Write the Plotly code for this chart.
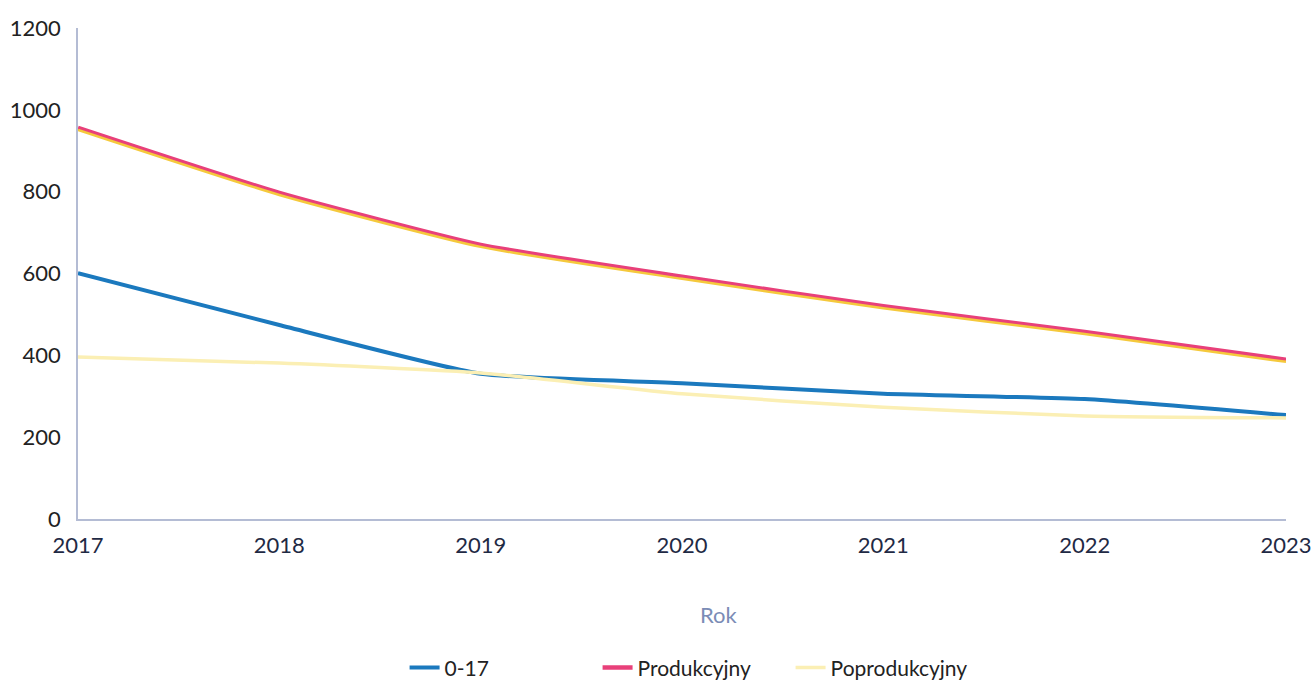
import plotly.graph_objects as go

years = [2017, 2018, 2019, 2020, 2021, 2022, 2023]
s_0_17 = [601, 474, 355, 332, 306, 293, 254]
s_produkcyjny = [956, 797, 670, 592, 520, 457, 389]
s_poprodukcyjny = [396, 381, 357, 306, 273, 252, 247]

y_ticks = [0, 200, 400, 600, 800, 1000, 1200]

font_family = "Lato, 'Open Sans', sans-serif"

fig = go.Figure()

fig.add_trace(go.Scatter(
    x=years, y=s_0_17, name="0-17", mode="lines",
    line=dict(color="#1b79be", width=4, shape="spline", smoothing=0.5),
))
# yellow edge beneath the Produkcyjny line (drawn on a slightly shifted hidden axis)
fig.add_trace(go.Scatter(
    x=years, y=s_produkcyjny, name="Produkcyjny", mode="lines", showlegend=False,
    yaxis="y2", hoverinfo="skip",
    line=dict(color="#f5c93c", width=2.5, shape="spline", smoothing=0.5),
))
fig.add_trace(go.Scatter(
    x=years, y=s_produkcyjny, name="Produkcyjny", mode="lines",
    line=dict(color="#e8407a", width=4.5, shape="spline", smoothing=0.5),
))
fig.add_trace(go.Scatter(
    x=years, y=s_poprodukcyjny, name="Poprodukcyjny", mode="lines",
    line=dict(color="#fbefb4", width=3.5, shape="spline", smoothing=0.5),
))

fig.update_layout(
    width=1312, height=680,
    paper_bgcolor="white", plot_bgcolor="white",
    margin=dict(l=78, r=26, t=28, b=161),
    font=dict(family=font_family, size=22, color="#222222"),
    xaxis=dict(
        range=[2017, 2023], tickvals=years, ticktext=[str(y) for y in years],
        showgrid=False, zeroline=False, showline=True, linecolor="#b4bcd4", linewidth=1.5,
        ticks="", ticklabelstandoff=6, automargin=False,
        tickfont=dict(size=22, color="#1f2a44"),
    ),
    yaxis=dict(
        range=[0, 1200], tickvals=y_ticks,
        showgrid=False, zeroline=False, showline=True, linecolor="#b4bcd4", linewidth=1.5,
        ticks="", ticklabelstandoff=11, automargin=False,
        tickfont=dict(size=22, color="#222222"),
    ),
    yaxis2=dict(
        range=[5, 1205], overlaying="y", visible=False,
    ),
    annotations=[dict(
        text="Rok", xref="paper", yref="paper", x=0.531, y=-0.195,
        xanchor="center", yanchor="middle", showarrow=False,
        font=dict(size=22, color="#7b8cb6"),
    )],
    legend=dict(
        orientation="h", x=0.51, xanchor="center",
        yref="container", y=0.018, yanchor="middle",
        font=dict(size=21, color="#222222"),
        entrywidth=148, itemwidth=30,
    ),
    showlegend=True,
)

fig.write_html(
    "out.html",
    config={"displayModeBar": False},
    post_script="document.body.style.margin='0';document.body.style.overflow='hidden';",
)
